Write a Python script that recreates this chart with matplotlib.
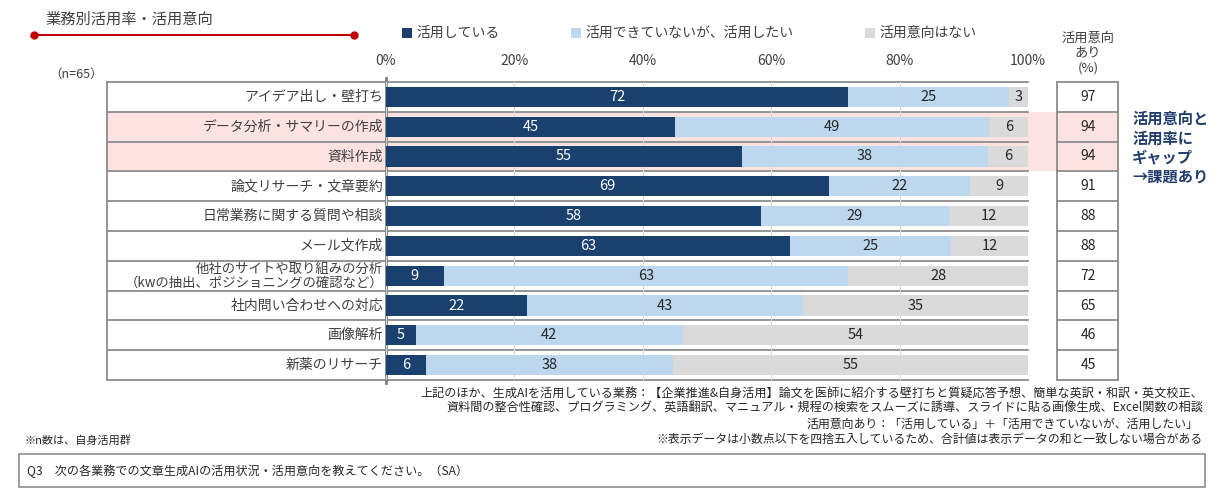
import matplotlib
matplotlib.use("Agg")
import matplotlib.pyplot as plt

plt.rcParams['font.family'] = ['Noto Sans CJK JP', 'DejaVu Sans']

# data (top to bottom)
tasks = ["アイデア出し・壁打ち", "データ分析・サマリーの作成", "資料作成", "論文リサーチ・文章要約",
         "日常業務に関する質問や相談", "メール文作成",
         "他社のサイトや取り組みの分析\n（kwの抽出、ポジショニングの確認など）",
         "社内問い合わせへの対応", "画像解析", "新薬のリサーチ"]
using = [72, 45, 55.4, 69, 58.4, 63, 9, 22, 4.6, 6.3]
want = [25, 49, 38.4, 22, 29.3, 25, 63, 43, 41.6, 38.4]
no_intent = [3, 6, 6.2, 9, 12.3, 12, 28, 35, 53.8, 55.3]
intent = [97, 94, 94, 91, 88, 88, 72, 65, 46, 45]
highlight = [1, 2]
series_names = ["活用している", "活用できていないが、活用したい", "活用意向はない"]
ticks = [0, 20, 40, 60, 80, 100]

c_dark = "#1a406f"
c_light = "#bdd7ee"
c_gray = "#dadada"
c_text = "#404040"
c_line = "#8c8c8c"
c_pink = "#fde2e2"

W, H = 1228, 491
fig = plt.figure(figsize=(W / 100, H / 100), dpi=100)

# background layer in pixel coords
bg = fig.add_axes([0, 0, 1, 1], zorder=0)
bg.set_xlim(0, W)
bg.set_ylim(H, 0)
bg.axis("off")

top, bot = 82, 380
left, right = 386, 1028
n = len(tasks)
rh = (bot - top) / n

ax = fig.add_axes([left / W, 1 - bot / H, (right - left) / W, (bot - top) / H], zorder=1)
ax.patch.set_visible(False)

# pink highlight band
for i in highlight:
    bg.add_patch(plt.Rectangle((107, top + i * rh), 1118 - 107, rh, color=c_pink, lw=0))

y = [i + 0.5 for i in range(n)]
cols = [c_dark, c_light, c_gray]
lefts = [0] * n
for vals, col in zip([using, want, no_intent], cols):
    ax.barh(y, vals, left=lefts, height=0.68, color=col, zorder=2)
    for yi, v, l in zip(y, vals, lefts):
        ax.text(l + v / 2, yi, f"{v:.0f}", ha="center", va="center", fontsize=10.5,
                color="white" if col == c_dark else "#262626", zorder=3)
    lefts = [a + b for a, b in zip(lefts, vals)]

ax.set_xlim(0, 100)
ax.set_ylim(n, 0)
ax.set_xticks(ticks)
ax.set_xticklabels([f"{t}%" for t in ticks], fontsize=10, color=c_text)
ax.xaxis.tick_top()
ax.tick_params(axis="x", length=0, pad=10)
ax.set_yticks([])
for s in ax.spines.values():
    s.set_visible(False)
ax.grid(axis="x", color="#d9d9d9", lw=0.8, zorder=0)
ax.set_axisbelow(True)

# row separators and table frames
for k in range(n + 1):
    yy = top + k * rh
    bg.plot([107, right], [yy, yy], color=c_line, lw=1.3)
    bg.plot([1057, 1118], [yy, yy], color=c_line, lw=1.3)
bg.plot([107, 107], [top, bot], color=c_line, lw=1.3)
bg.plot([left, left], [78, bot + 3], color="#7f7f7f", lw=2)
bg.plot([1057, 1057], [top, bot], color=c_line, lw=1.3)
bg.plot([1118, 1118], [top, bot], color=c_line, lw=1.3)

# task labels and intent values
for i, (t, v) in enumerate(zip(tasks, intent)):
    yc = top + (i + 0.5) * rh
    two = "\n" in t
    bg.text(383, yc, t, ha="right", va="center", fontsize=9.6 if two else 10, color=c_text,
            linespacing=0.98, multialignment="right")
    bg.text(1088, yc, str(v), ha="center", va="center", fontsize=10, color="#262626")

bg.text(1088, 53, "活用意向\nあり\n(%)", ha="center", va="center", fontsize=9.5,
        color=c_text, linespacing=1.2)

bg.text(1132, 148, "活用意向と\n活用率に\nギャップ\n→課題あり", ha="left", va="center",
        fontsize=11, fontweight="bold", color="#213d6b", linespacing=1.25)

# title
bg.text(45, 19, "業務別活用率・活用意向", ha="left", va="center", fontsize=11, color=c_text)
bg.plot([34, 354], [35, 35], color="#c00000", lw=1.5, marker="o", markersize=5)
bg.text(49, 74, "（n=65）", ha="left", va="center", fontsize=9, color=c_text)

# legend
leg_x = [402, 571, 865]
for lx, col, name in zip(leg_x, cols, series_names):
    bg.add_patch(plt.Rectangle((lx, 28), 10, 10, color=col, lw=0))
    bg.text(lx + 14, 33, name, ha="left", va="center", fontsize=10, color=c_text)

# notes
bg.text(1203, 393, "上記のほか、生成AIを活用している業務：【企業推進&自身活用】論文を医師に紹介する壁打ちと質疑応答予想、簡単な英訳・和訳・英文校正、",
        ha="right", va="center", fontsize=8.7, color="#262626")
bg.text(1203, 408, "資料間の整合性確認、プログラミング、英語翻訳、マニュアル・規程の検索をスムーズに誘導、スライドに貼る画像生成、Excel関数の相談",
        ha="right", va="center", fontsize=8.7, color="#262626")
bg.text(1198, 424, "活用意向あり：「活用している」＋「活用できていないが、活用したい」",
        ha="right", va="center", fontsize=8.6, color="#262626")
bg.text(1203, 439, "※表示データは小数点以下を四捨五入しているため、合計値は表示データの和と一致しない場合がある",
        ha="right", va="center", fontsize=8.6, color="#262626")
bg.text(25, 440, "※n数は、自身活用群", ha="left", va="center", fontsize=8, color="#262626")

bg.add_patch(plt.Rectangle((19, 454), 1186, 33, fill=False, ec=c_line, lw=1.2))
bg.text(27, 471, "Q3　次の各業務での文章生成AIの活用状況・活用意向を教えてください。（SA）",
        ha="left", va="center", fontsize=8.7, color="#262626")

fig.savefig("out.png", dpi=100)
